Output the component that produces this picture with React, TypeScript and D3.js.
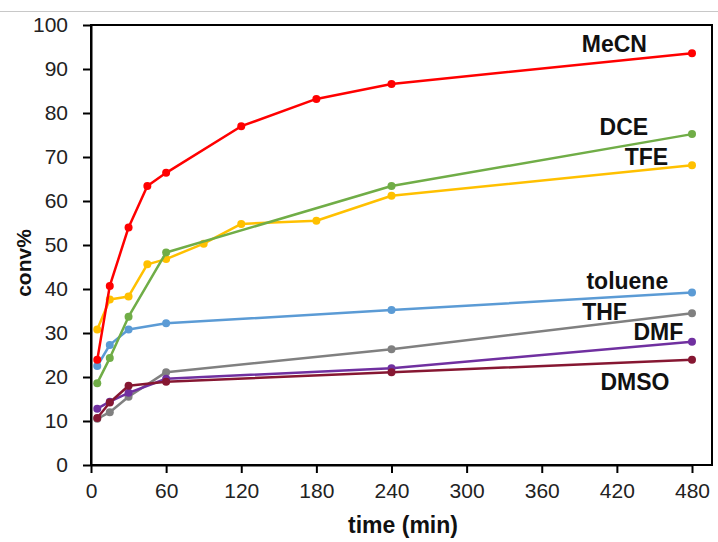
import { useEffect, useRef } from "react";
import * as d3 from "d3";

// time points (min) and conversion (%) per solvent
const mecnTime = [5, 15, 30, 45, 60, 120, 180, 240, 480];
const mecnConv = [23.9, 40.7, 54.0, 63.4, 66.4, 77.0, 83.2, 86.6, 93.6];
const dceTime = [5, 15, 30, 60, 240, 480];
const dceConv = [18.6, 24.3, 33.7, 48.3, 63.4, 75.2];
const tfeTime = [5, 15, 30, 45, 60, 90, 120, 180, 240, 480];
const tfeConv = [30.8, 37.6, 38.3, 45.6, 46.8, 50.3, 54.8, 55.5, 61.2, 68.1];
const tolueneTime = [5, 15, 30, 60, 240, 480];
const tolueneConv = [22.5, 27.3, 30.8, 32.2, 35.2, 39.2];
const thfTime = [5, 15, 30, 60, 240, 480];
const thfConv = [10.5, 12.0, 15.5, 21.1, 26.3, 34.5];
const dmfTime = [5, 15, 30, 60, 240, 480];
const dmfConv = [12.8, 14.4, 16.4, 19.6, 22.0, 28.0];
const dmsoTime = [5, 15, 30, 60, 240, 480];
const dmsoConv = [10.7, 14.2, 18.0, 18.9, 21.1, 23.9];

const xTicks = [0, 60, 120, 180, 240, 300, 360, 420, 480];
const yTicks = [0, 10, 20, 30, 40, 50, 60, 70, 80, 90, 100];

// label anchor: right edge (min), vertical centre (%)
const series = [
    { name: "THF", t: thfTime, v: thfConv, color: "#808080", lx: 428, ly: 34.8 },
    { name: "DMF", t: dmfTime, v: dmfConv, color: "#7030a0", lx: 473, ly: 30.2 },
    { name: "DMSO", t: dmsoTime, v: dmsoConv, color: "#861732", lx: 462, ly: 18.9 },
    { name: "toluene", t: tolueneTime, v: tolueneConv, color: "#5b9bd5", lx: 461, ly: 41.8 },
    { name: "TFE", t: tfeTime, v: tfeConv, color: "#ffc000", lx: 461, ly: 70.0 },
    { name: "DCE", t: dceTime, v: dceConv, color: "#70ad47", lx: 445, ly: 76.8 },
    { name: "MeCN", t: mecnTime, v: mecnConv, color: "#ff0000", lx: 444, ly: 95.7 },
];

const W = 718, H = 542;
const FONT = "Arial, 'Liberation Sans', sans-serif";

export default function App() {
    const ref = useRef<SVGSVGElement>(null);

    useEffect(() => {
        const svg = d3.select(ref.current);
        svg.selectAll("*").remove();

        const left = 91, right = 712, top = 25, bottom = 465;
        const x = d3.scaleLinear().domain([0, 480]).range([left, 692]);
        const y = d3.scaleLinear().domain([0, 100]).range([bottom, top]);

        svg.append("rect").attr("width", W).attr("height", H).attr("fill", "#fff");
        svg.append("line")
            .attr("x1", 0).attr("x2", W).attr("y1", 11.5).attr("y2", 11.5)
            .attr("stroke", "#c8c8c8").attr("stroke-width", 1);

        // frame
        svg.append("rect")
            .attr("x", left).attr("y", top)
            .attr("width", right - left).attr("height", bottom - top)
            .attr("fill", "none").attr("stroke", "#000").attr("stroke-width", 2);

        const xAxis = svg.append("g")
            .attr("transform", `translate(0,${bottom})`)
            .call(d3.axisBottom(x).tickValues(xTicks).tickSize(8).tickPadding(10).tickSizeOuter(0));
        const yAxis = svg.append("g")
            .attr("transform", `translate(${left},0)`)
            .call(d3.axisLeft(y).tickValues(yTicks).tickSize(8).tickPadding(15).tickSizeOuter(0));

        [xAxis, yAxis].forEach(g => {
            g.select(".domain").attr("stroke", "#000").attr("stroke-width", 2);
            g.selectAll(".tick line").attr("stroke", "#000").attr("stroke-width", 2);
            g.selectAll(".tick text")
                .attr("fill", "#222")
                .style("font-family", FONT)
                .style("font-size", "21px");
        });

        const line = d3.line<[number, number]>()
            .x(d => x(d[0]))
            .y(d => y(d[1]));

        series.forEach(s => {
            const pts: [number, number][] = s.t.map((t, i) => [t, s.v[i]]);
            svg.append("path")
                .datum(pts)
                .attr("d", line)
                .attr("fill", "none")
                .attr("stroke", s.color)
                .attr("stroke-width", 2.5)
                .attr("stroke-linejoin", "round");
            svg.append("g").selectAll("circle")
                .data(pts)
                .join("circle")
                .attr("cx", d => x(d[0]))
                .attr("cy", d => y(d[1]))
                .attr("r", 4)
                .attr("fill", s.color);
        });

        svg.append("g").selectAll("text")
            .data(series)
            .join("text")
            .attr("x", d => x(d.lx))
            .attr("y", d => y(d.ly))
            .attr("text-anchor", "end")
            .attr("dominant-baseline", "central")
            .style("font-family", FONT)
            .style("font-weight", "bold")
            .style("font-size", "23px")
            .attr("fill", "#111")
            .text(d => d.name);

        svg.append("text")
            .attr("x", 403)
            .attr("y", 525)
            .attr("text-anchor", "middle")
            .attr("dominant-baseline", "central")
            .style("font-family", FONT)
            .style("font-weight", "bold")
            .style("font-size", "23px")
            .attr("fill", "#111")
            .text("time (min)");

        svg.append("text")
            .attr("transform", `translate(23,263) rotate(-90)`)
            .attr("text-anchor", "middle")
            .attr("dominant-baseline", "central")
            .style("font-family", FONT)
            .style("font-weight", "bold")
            .style("font-size", "21px")
            .attr("fill", "#111")
            .text("conv%");
    }, []);

    return (
        <div style={{ position: "fixed", left: 0, top: 0 }}>
            <svg width={W} height={H} ref={ref} style={{ display: "block" }}></svg>
        </div>
    );
}
